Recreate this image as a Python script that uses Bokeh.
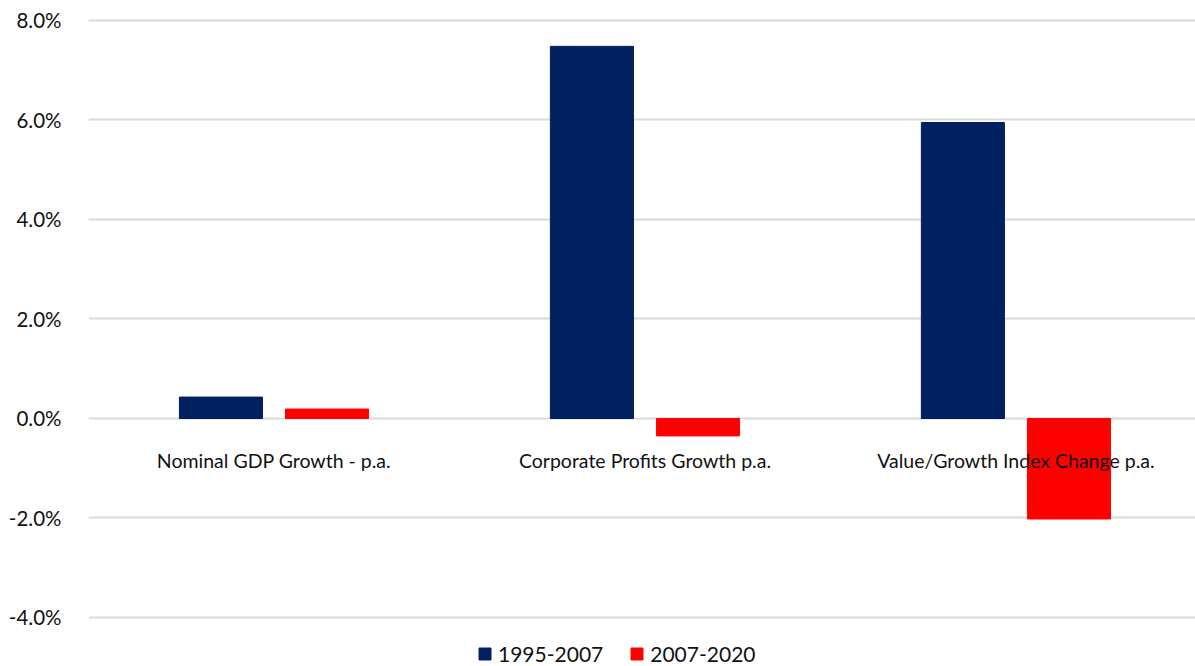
from bokeh.plotting import figure
from bokeh.models import ColumnDataSource, Range1d, FixedTicker, Legend, LegendItem, CustomJSTickFormatter
from bokeh.core.properties import value
from bokeh.transform import dodge
from bokeh.embed import file_html
from bokeh.resources import INLINE

categories = ["Nominal GDP Growth - p.a.", "Corporate Profits Growth p.a.", "Value/Growth Index Change p.a."]
series_names = ["1995-2007", "2007-2020"]
s1995_2007 = [0.43, 7.48, 5.95]
s2007_2020 = [0.19, -0.35, -2.02]
y_ticks = [-4, -2, 0, 2, 4, 6, 8]

xs = list(range(len(categories)))
src = ColumnDataSource(dict(x=xs, cat=categories, a=s1995_2007, b=s2007_2020, zero=[0] * len(xs)))

p = figure(width=1195, height=666, output_backend="svg", toolbar_location=None,
           x_range=Range1d(-0.5, 2.484), y_range=Range1d(-4.985, 8.402),
           min_border_left=88, min_border_right=0, min_border_top=0, min_border_bottom=0)
p.outline_line_color = None
p.background_fill_color = "white"
p.border_fill_color = "white"

off = 0.143
w = 0.224
r1 = p.vbar(x=dodge("x", -off), top="a", bottom=0, width=w, source=src,
            fill_color="#002060", line_color="#002060")
r2 = p.vbar(x=dodge("x", off), top="b", bottom=0, width=w, source=src,
            fill_color="#FF0000", line_color="#FF0000")

p.text(x="x", y="zero", text="cat", source=src, y_offset=42,
       text_align="center", text_baseline="middle", text_font=value("Lato"),
       text_font_size="19.5px", text_color="#111111")

p.xaxis.visible = False
p.xgrid.grid_line_color = None
p.yaxis.ticker = FixedTicker(ticks=y_ticks)
p.yaxis.formatter = CustomJSTickFormatter(code="return tick.toFixed(1) + '%';")
p.yaxis.axis_line_color = None
p.yaxis.major_tick_line_color = None
p.yaxis.minor_tick_line_color = None
p.yaxis.major_label_standoff = 21
p.yaxis.major_label_text_font = "Lato"
p.yaxis.major_label_text_font_size = "20.5px"
p.yaxis.major_label_text_color = "#111111"
p.ygrid.grid_line_color = "#d9d9d9"
p.ygrid.grid_line_width = 2

legend = Legend(items=[LegendItem(label=series_names[0], renderers=[r1]),
                       LegendItem(label=series_names[1], renderers=[r2])],
                orientation="horizontal", location=(389, 0),
                label_text_font="Lato", label_text_font_size="21px", label_text_color="#111111",
                glyph_width=15, glyph_height=15, spacing=26, label_standoff=6,
                padding=2, margin=0, border_line_color=None, background_fill_alpha=0)
p.add_layout(legend, "center")

open("out.html", "w").write(file_html(p, INLINE))
